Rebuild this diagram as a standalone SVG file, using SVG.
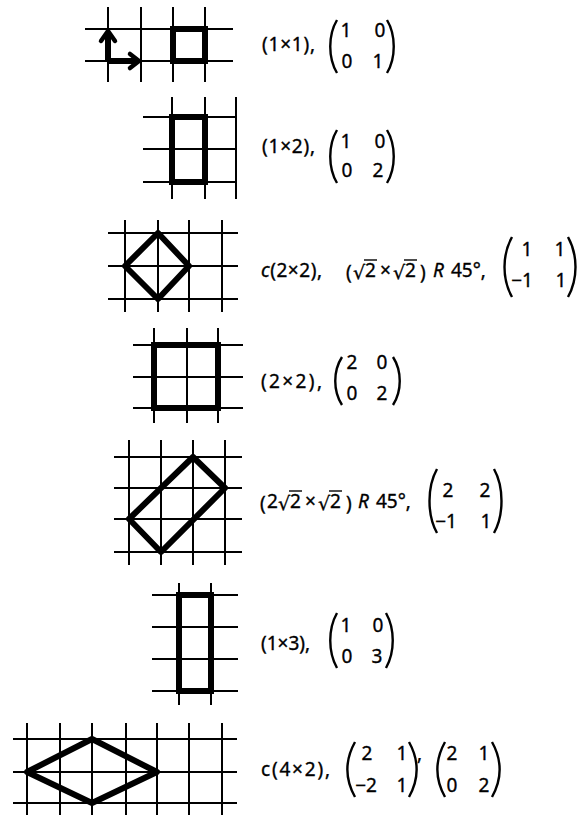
<svg xmlns="http://www.w3.org/2000/svg" width="584" height="815" viewBox="0 0 584 815">
<style>
.g{stroke:#000;stroke-width:2;fill:none;stroke-linecap:butt}
.t{stroke:#000;stroke-width:6;fill:none;stroke-linejoin:miter}
.d{stroke:#000;stroke-width:6;fill:none;stroke-linejoin:round}
.p{stroke:#000;stroke-width:2.4;fill:none}
.ov{stroke:#000;stroke-width:1.4}
text{font-family:"Noto Sans","DejaVu Sans",sans-serif;font-size:19px;fill:#000;stroke:#000;stroke-width:0.35}
.m{text-anchor:middle}
.i{font-style:italic}
.r{font-family:"DejaVu Sans",sans-serif;font-size:19px}
</style>
<rect width="584" height="815" fill="#fff"/>

<g id="row1">
  <path class="g" d="M108 7V82M141 7V82M173 7V82M205 7V82M85 29H233M85 61H233"/>
  <rect class="t" x="173" y="29" width="32" height="32"/>
  <path d="M108 61V34M108 61H135" stroke="#000" stroke-width="6" fill="none"/>
  <polyline points="101,41 108,31 115,41" stroke="#000" stroke-width="4.5" fill="none" stroke-linejoin="round" stroke-linecap="round"/>
  <polyline points="130,54 139,61 130,68" stroke="#000" stroke-width="4.5" fill="none" stroke-linejoin="round" stroke-linecap="round"/>
  <text x="262" y="51" textLength="53" lengthAdjust="spacing">(1×1),</text>
  <path class="p" d="M337 20C328 35 328 58 337 73M387 20C396 35 396 58 387 73"/>
  <text class="m" x="346" y="37">1</text><text class="m" x="380" y="37">0</text>
  <text class="m" x="347" y="68">0</text><text class="m" x="378" y="68">1</text>
</g>

<g id="row2">
  <path class="g" d="M172 97V199M205 97V199M236 97V199M143 117H235M143 149H235M143 182H235"/>
  <rect class="t" x="172" y="117" width="33" height="65"/>
  <text x="262" y="153" textLength="53" lengthAdjust="spacing">(1×2),</text>
  <path class="p" d="M337 130C328 145 328 168 337 183M387 130C396 145 396 168 387 183"/>
  <text class="m" x="346" y="148">1</text><text class="m" x="380" y="148">0</text>
  <text class="m" x="347" y="177">0</text><text class="m" x="378" y="177">2</text>
</g>

<g id="row3">
  <path class="g" d="M125 220V312M158 220V312M189 220V312M222 220V312M108 233H238M108 266H238M108 299H238"/>
  <polygon class="d" points="158,233 189,266 158,299 125,266"/>
  <text x="261" y="277" textLength="61" lengthAdjust="spacing"><tspan class="i">c</tspan>(2×2),</text>
  <text x="346" y="279" font-size="21">(</text>
  <text class="r" x="353" y="279">√</text>
  <text x="365" y="277">2</text>
  <line class="ov" x1="364" y1="260" x2="377" y2="260"/>
  <text x="380" y="277">×</text>
  <text class="r" x="393" y="279">√</text>
  <text x="405" y="277">2</text>
  <line class="ov" x1="404" y1="260" x2="417" y2="260"/>
  <text x="420" y="279" font-size="21">)</text>
  <text class="i" x="433" y="277">R</text>
  <text x="451" y="277">45°,</text>
  <path class="p" d="M512 237C502 255 502 279 512 297M568 237C578 255 578 279 568 297"/>
  <text class="m" x="527" y="256">1</text><text class="m" x="560" y="256">1</text>
  <text class="m" x="522" y="287">−1</text><text class="m" x="561" y="287">1</text>
</g>

<g id="row4">
  <path class="g" d="M154 328V423M187 328V423M218 328V423M133 345H243M133 377H243M133 408H243"/>
  <rect class="t" x="154" y="345" width="64" height="63"/>
  <text x="261" y="388" textLength="61" lengthAdjust="spacing">(2×2),</text>
  <path class="p" d="M342 357C333 371 333 391 342 405M393 357C402 371 402 391 393 405"/>
  <text class="m" x="352" y="369">2</text><text class="m" x="382" y="369">0</text>
  <text class="m" x="352" y="400">0</text><text class="m" x="382" y="400">2</text>
</g>

<g id="row5">
  <path class="g" d="M129 440V565M161 440V565M193 440V565M225 440V565M114 457H242M114 488H242M114 519H242M114 552H242"/>
  <polygon class="d" points="193,457 225,488 161,552 129,519"/>
  <text x="260" y="510" font-size="21">(</text>
  <text x="267" y="508">2</text>
  <text class="r" x="278" y="510">√</text>
  <text x="290" y="508">2</text>
  <line class="ov" x1="289" y1="491" x2="302" y2="491"/>
  <text x="305" y="508">×</text>
  <text class="r" x="318" y="510">√</text>
  <text x="330" y="508">2</text>
  <line class="ov" x1="329" y1="491" x2="342" y2="491"/>
  <text x="346" y="510" font-size="21">)</text>
  <text class="i" x="358" y="508">R</text>
  <text x="376" y="508">45°,</text>
  <path class="p" d="M437 469C427 487 427 515 437 533M494 469C504 487 504 515 494 533"/>
  <text class="m" x="448" y="497">2</text><text class="m" x="485" y="497">2</text>
  <text class="m" x="446" y="528">−1</text><text class="m" x="486" y="528">1</text>
</g>

<g id="row6">
  <path class="g" d="M179 583V705M211 583V705M152 595H238M152 627H238M152 659H238M152 691H238"/>
  <rect class="t" x="179" y="595" width="32" height="96"/>
  <text x="261" y="650" textLength="49" lengthAdjust="spacing">(1×3),</text>
  <path class="p" d="M337 613C328 629 328 652 337 668M386 613C395 629 395 652 386 668"/>
  <text class="m" x="346" y="632">1</text><text class="m" x="378" y="632">0</text>
  <text class="m" x="347" y="663">0</text><text class="m" x="377" y="663">3</text>
</g>

<g id="row7">
  <path class="g" d="M27 723V815M60 723V815M92 723V815M126 723V815M157 723V815M189 723V815M222 723V815M13 739H237M13 772H237M13 803H237"/>
  <polygon class="d" points="27,772 92,739 157,772 92,803"/>
  <text x="261" y="776" textLength="69" lengthAdjust="spacing">c(4×2),</text>
  <path class="p" d="M355 742C345 760 345 779 355 797M409 742C419 760 419 779 409 797"/>
  <text class="m" x="367" y="760">2</text><text class="m" x="402" y="760">1</text>
  <text class="m" x="366" y="792">−2</text><text class="m" x="402" y="792">1</text>
  <text x="417" y="760">,</text>
  <path class="p" d="M445 742C435 760 435 779 445 797M492 742C502 760 502 779 492 797"/>
  <text class="m" x="452" y="760">2</text><text class="m" x="484" y="760">1</text>
  <text class="m" x="452" y="792">0</text><text class="m" x="484" y="792">2</text>
</g>
</svg>
